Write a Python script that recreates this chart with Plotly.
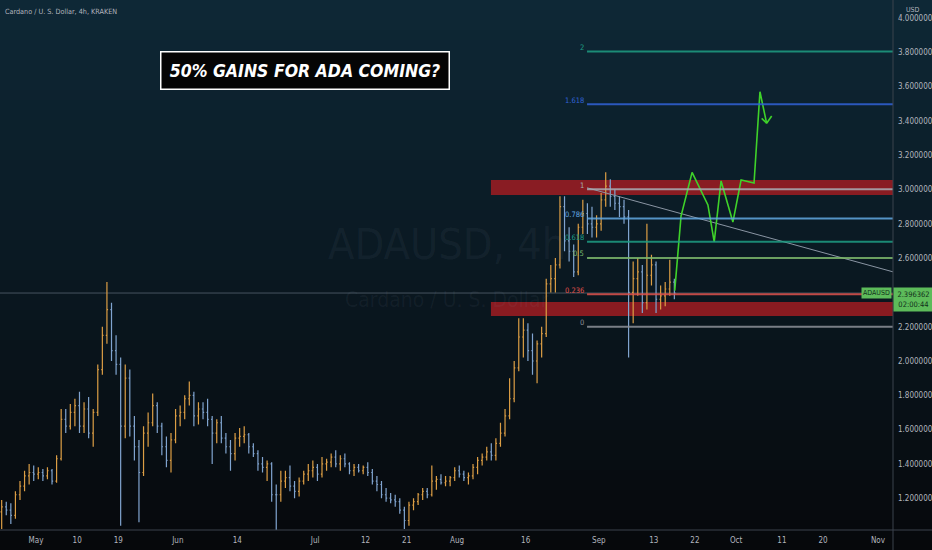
import pandas as pd
import plotly.graph_objects as go

# ---------------- data ----------------
dates = pd.date_range("2021-04-23 12:00", "2021-09-17 12:00", freq="D")

opens = [
    1.12, 1.15, 1.13, 1.10, 1.22, 1.27, 1.33, 1.35,
    1.34, 1.35, 1.33, 1.36, 1.30, 1.43, 1.66, 1.62, 1.70, 1.74, 1.62, 1.72, 1.58, 1.70, 1.95, 2.15,
    2.30, 2.06, 1.98, 1.62, 1.90, 1.62, 1.50, 1.35, 1.58, 1.64, 1.74, 1.62, 1.50, 1.42, 1.54,
    1.68, 1.70, 1.78, 1.80, 1.68, 1.72, 1.70, 1.66, 1.58, 1.64, 1.55, 1.50, 1.46, 1.55, 1.56,
    1.57, 1.50, 1.46, 1.40, 1.38, 1.40, 1.22, 1.22, 1.30, 1.32, 1.27, 1.24, 1.30, 1.34, 1.36,
    1.38, 1.34, 1.40, 1.41, 1.44, 1.40, 1.43, 1.40, 1.36, 1.38, 1.36, 1.38, 1.35, 1.30, 1.28,
    1.22, 1.20, 1.19, 1.18, 1.13, 1.07, 1.16, 1.18, 1.22, 1.24, 1.22, 1.30, 1.31, 1.29, 1.30, 1.32,
    1.36, 1.34, 1.32, 1.33, 1.38, 1.42, 1.44, 1.47, 1.45, 1.52, 1.58, 1.68, 1.78, 1.96, 2.14,
    2.18, 2.06, 2.00, 2.10, 2.16, 2.45, 2.48, 2.56, 2.90, 2.70, 2.64, 2.52, 2.78, 2.86, 2.80, 2.78,
    2.80, 2.94, 3.02, 2.96, 2.92, 2.90, 2.84, 2.40, 2.48, 2.52, 2.34, 2.50, 2.56, 2.36, 2.38, 2.42, 2.46,
]
highs = [
    1.19, 1.18, 1.17, 1.24, 1.30, 1.36, 1.40, 1.39,
    1.38, 1.37, 1.38, 1.37, 1.45, 1.72, 1.72, 1.75, 1.78, 1.82, 1.76, 1.79, 1.72, 1.98, 2.20, 2.46,
    2.34, 2.15, 2.02, 1.98, 1.95, 1.68, 1.54, 1.62, 1.70, 1.81, 1.76, 1.64, 1.56, 1.58, 1.72,
    1.74, 1.80, 1.88, 1.82, 1.76, 1.76, 1.78, 1.68, 1.66, 1.68, 1.58, 1.54, 1.58, 1.61, 1.62,
    1.58, 1.52, 1.48, 1.44, 1.42, 1.41, 1.28, 1.36, 1.36, 1.39, 1.30, 1.32, 1.36, 1.40, 1.42,
    1.40, 1.44, 1.43, 1.46, 1.48, 1.45, 1.46, 1.41, 1.40, 1.40, 1.39, 1.41, 1.37, 1.33, 1.30,
    1.26, 1.23, 1.22, 1.20, 1.15, 1.18, 1.20, 1.23, 1.26, 1.26, 1.39, 1.33, 1.34, 1.33, 1.33, 1.38,
    1.39, 1.36, 1.35, 1.40, 1.44, 1.46, 1.50, 1.52, 1.55, 1.64, 1.72, 1.90, 2.00, 2.25, 2.25,
    2.22, 2.16, 2.12, 2.20, 2.48, 2.56, 2.60, 2.96, 2.96, 2.78, 2.68, 2.80, 2.94, 2.92, 2.90, 2.85,
    2.98, 3.10, 3.06, 3.00, 2.96, 2.94, 2.88, 2.58, 2.60, 2.56, 2.80, 2.62, 2.58, 2.44, 2.46, 2.59, 2.48,
]
lows = [
    1.02, 1.10, 1.05, 1.08, 1.19, 1.24, 1.28, 1.30,
    1.31, 1.30, 1.31, 1.28, 1.29, 1.42, 1.58, 1.60, 1.62, 1.58, 1.58, 1.55, 1.50, 1.68, 1.92, 2.10,
    2.00, 1.92, 1.04, 1.55, 1.56, 1.42, 1.06, 1.33, 1.50, 1.62, 1.58, 1.45, 1.38, 1.35, 1.52,
    1.62, 1.66, 1.74, 1.62, 1.63, 1.66, 1.62, 1.40, 1.52, 1.52, 1.46, 1.36, 1.42, 1.50, 1.52,
    1.46, 1.44, 1.36, 1.35, 1.30, 1.18, 1.01, 1.18, 1.26, 1.24, 1.20, 1.21, 1.28, 1.30, 1.32,
    1.30, 1.32, 1.36, 1.38, 1.38, 1.36, 1.38, 1.34, 1.33, 1.35, 1.34, 1.33, 1.28, 1.24, 1.20,
    1.18, 1.17, 1.15, 1.11, 1.02, 1.04, 1.13, 1.16, 1.19, 1.20, 1.21, 1.25, 1.28, 1.27, 1.27, 1.30,
    1.32, 1.30, 1.28, 1.31, 1.34, 1.39, 1.42, 1.42, 1.42, 1.50, 1.56, 1.66, 1.76, 1.94, 2.02,
    2.00, 1.92, 1.87, 2.02, 2.14, 2.40, 2.40, 2.54, 2.64, 2.58, 2.49, 2.50, 2.74, 2.74, 2.72, 2.72,
    2.76, 2.90, 2.90, 2.88, 2.84, 2.80, 2.02, 2.22, 2.38, 2.28, 2.30, 2.44, 2.28, 2.30, 2.32, 2.38, 2.36,
]
closes = [
    1.15, 1.13, 1.10, 1.22, 1.27, 1.33, 1.35, 1.34,
    1.35, 1.33, 1.36, 1.30, 1.43, 1.66, 1.62, 1.70, 1.74, 1.62, 1.72, 1.58, 1.70, 1.95, 2.15, 2.30,
    2.06, 1.98, 1.62, 1.90, 1.62, 1.50, 1.35, 1.58, 1.64, 1.74, 1.62, 1.50, 1.42, 1.54, 1.68,
    1.70, 1.78, 1.80, 1.68, 1.72, 1.70, 1.66, 1.58, 1.64, 1.55, 1.50, 1.46, 1.55, 1.56, 1.57,
    1.50, 1.46, 1.40, 1.38, 1.40, 1.22, 1.22, 1.30, 1.32, 1.27, 1.24, 1.30, 1.34, 1.36, 1.38,
    1.34, 1.40, 1.41, 1.44, 1.40, 1.43, 1.40, 1.36, 1.38, 1.36, 1.38, 1.35, 1.30, 1.28, 1.22,
    1.20, 1.19, 1.18, 1.13, 1.07, 1.16, 1.18, 1.22, 1.24, 1.22, 1.30, 1.31, 1.29, 1.30, 1.32, 1.36,
    1.34, 1.32, 1.33, 1.38, 1.42, 1.44, 1.47, 1.45, 1.52, 1.58, 1.68, 1.78, 1.96, 2.14, 2.18,
    2.06, 2.00, 2.10, 2.16, 2.45, 2.48, 2.56, 2.90, 2.70, 2.64, 2.52, 2.78, 2.86, 2.80, 2.78, 2.80,
    2.94, 3.02, 2.96, 2.92, 2.90, 2.84, 2.40, 2.48, 2.52, 2.34, 2.50, 2.56, 2.36, 2.38, 2.42, 2.46, 2.396362,
]
last_price = 2.396362
last_price_text = "2.396362"
countdown_text = "02:00:44"

x_tick_vals = ["2021-05-01", "2021-05-10", "2021-05-19", "2021-06-01", "2021-06-14", "2021-07-01",
               "2021-07-12", "2021-07-21", "2021-08-01", "2021-08-16", "2021-09-01", "2021-09-13",
               "2021-09-22", "2021-10-01", "2021-10-11", "2021-10-20", "2021-11-01"]
x_tick_text = ["May", "10", "19", "Jun", "14", "Jul", "12", "21", "Aug", "16", "Sep", "13",
               "22", "Oct", "11", "20", "Nov"]
y_tick_vals = [1.2, 1.4, 1.6, 1.8, 2.0, 2.2, 2.6, 2.8, 3.0, 3.2, 3.4, 3.6, 3.8, 4.0]
x_range = ["2021-04-23 03:10", "2021-11-04 06:45"]
y_range = [1.0146, 4.105]

# Fibonacci extension levels
fib_price_0 = 2.200
fib_price_1 = 3.002
fib_levels = [0, 0.236, 0.5, 0.618, 0.786, 1, 1.618, 2]
fib_labels = ["0", "0.236", "0.5", "0.618", "0.786", "1", "1.618", "2"]
fib_colors = ["#8d9199", "#e0524c", "#7db86c", "#1f9e84", "#62a9e3", "#a9adb5", "#3162d6", "#1f9e84"]
fib_start = "2021-08-29 10:00"

# supply / demand zones
zone_start = "2021-08-08 10:00"
zone_top = [3.055, 2.968]
zone_bottom = [2.344, 2.262]

# descending trend line
trend_dates = ["2021-08-29 10:00", "2021-11-04 06:45"]
trend_prices = [3.01, 2.52]

# projected path (green)
proj_dates = ["2021-09-17 14:00", "2021-09-18 23:00", "2021-09-21 09:00", "2021-09-24 20:00",
              "2021-09-26 05:00", "2021-09-27 17:00", "2021-09-30 07:00", "2021-10-02 02:00",
              "2021-10-04 22:00", "2021-10-06 05:00", "2021-10-07 16:00", "2021-10-08 18:30"]
proj_prices = [2.41, 2.845, 3.10, 2.91, 2.694, 3.05, 2.81, 3.055, 3.038, 3.570, 3.386, 3.429]
wing_dates = ["2021-10-06 14:00", "2021-10-07 16:00"]
wing_prices = [3.415, 3.386]

# ---------------- figure ----------------
W, H = 932, 550
ML, MR, MT, MB = 0, 39, 0, 20
PW, PH = W - ML - MR, H - MT - MB
FONT = "DejaVu Sans Condensed, DejaVu Sans, sans-serif"

fig = go.Figure()

fig.add_trace(go.Ohlc(
    x=dates, open=opens, high=highs, low=lows, close=closes,
    increasing=dict(line=dict(color="#dc9e45", width=1.2)),
    decreasing=dict(line=dict(color="#80a4cf", width=1.2)),
    tickwidth=0.25, showlegend=False, hoverinfo="skip",
))

fig.add_trace(go.Scatter(x=trend_dates, y=trend_prices, mode="lines",
                         line=dict(color="#8a95a3", width=1), showlegend=False, hoverinfo="skip"))
fig.add_trace(go.Scatter(x=proj_dates, y=proj_prices, mode="lines",
                         line=dict(color="#3fd22a", width=1.6), showlegend=False, hoverinfo="skip"))
fig.add_trace(go.Scatter(x=wing_dates, y=wing_prices, mode="lines",
                         line=dict(color="#3fd22a", width=1.6), showlegend=False, hoverinfo="skip"))

shapes = []
# gradient background bands
top_c, mid_c, bot_c = (14, 40, 54), (10, 24, 33), (6, 8, 11)
NB = 55
for i in range(NB):
    t = (i + 0.5) / NB
    if t < 0.5:
        a, b, u = top_c, mid_c, t / 0.5
    else:
        a, b, u = mid_c, bot_c, (t - 0.5) / 0.5
    c = tuple(int(round(a[k] + (b[k] - a[k]) * u)) for k in range(3))
    y1 = 1 + MT / PH - i * (H / PH) / NB
    y0 = y1 - (H / PH) / NB - 0.002
    shapes.append(dict(type="rect", xref="paper", yref="paper", x0=-0.01, x1=1 + (MR + 2) / PW,
                       y0=y0, y1=y1, fillcolor="rgb(%d,%d,%d)" % c, line=dict(width=0), layer="below"))

# zones
for z in (zone_top, zone_bottom):
    shapes.append(dict(type="rect", xref="x", yref="y", x0=zone_start, x1=x_range[1],
                       y0=z[1], y1=z[0], fillcolor="rgba(155,28,34,0.88)", line=dict(width=0), layer="below"))

# last price line
shapes.append(dict(type="line", xref="paper", yref="y", x0=0, x1=1, y0=last_price, y1=last_price,
                   line=dict(color="rgba(120,135,150,0.55)", width=1), layer="below"))

# fib lines
for lv, col in zip(fib_levels, fib_colors):
    p = fib_price_0 + (fib_price_1 - fib_price_0) * lv
    shapes.append(dict(type="line", xref="x", yref="y", x0=fib_start, x1=x_range[1], y0=p, y1=p,
                       line=dict(color=col, width=2), opacity=0.85))

# separators
shapes.append(dict(type="line", xref="paper", yref="paper", x0=1, x1=1, y0=-MB / PH, y1=1,
                   line=dict(color="#3b424d", width=1)))
shapes.append(dict(type="line", xref="paper", yref="paper", x0=0, x1=1 + MR / PW, y0=0, y1=0,
                   line=dict(color="#3b424d", width=1)))

annotations = []
axis_font = dict(family=FONT, size=8, color="#b2b5be")

# watermark
annotations.append(dict(xref="paper", yref="paper", x=0.5, y=1 - 244 / PH, text="ADAUSD, 4h",
                        showarrow=False, borderpad=0,
                        font=dict(family=FONT, size=43, color="rgba(140,160,180,0.07)")))
annotations.append(dict(xref="paper", yref="paper", x=0.5, y=1 - 300 / PH, text="Cardano / U. S. Dollar",
                        showarrow=False, borderpad=0,
                        font=dict(family=FONT, size=21, color="rgba(140,160,180,0.07)")))

# header
annotations.append(dict(xref="paper", yref="paper", x=0, y=1, xshift=3, yshift=-5, xanchor="left",
                        yanchor="top", text="Cardano / U. S. Dollar, 4h, KRAKEN", showarrow=False,
                        font=dict(family=FONT, size=7.2, color="#b2b5be")))

# title box
annotations.append(dict(xref="paper", yref="paper", x=304.5 / PW, y=1 - 70.5 / PH, xanchor="center",
                        yanchor="middle", text="<b><i>50% GAINS FOR ADA COMING?</i></b>", showarrow=False,
                        font=dict(family=FONT, size=17.5, color="white"),
                        bgcolor="#050505", bordercolor="white", borderwidth=1.5, borderpad=0,
                        width=287, height=36))

# fib labels
for lv, lab, col in zip(fib_levels, fib_labels, fib_colors):
    p = fib_price_0 + (fib_price_1 - fib_price_0) * lv
    annotations.append(dict(xref="x", yref="y", x=fib_start, y=p, xanchor="right", yanchor="middle",
                            xshift=-2, yshift=4, text=lab, showarrow=False, borderpad=0,
                            font=dict(family=FONT, size=7.5, color=col)))

# price labels
annotations.append(dict(xref="paper", yref="y", x=1, y=last_price, xanchor="right", yanchor="middle",
                        xshift=-1, text="ADAUSD", showarrow=False,
                        font=dict(family=FONT, size=7, color="#12301a"),
                        bgcolor="#5dbb5a", borderpad=1))
annotations.append(dict(xref="paper", yref="y", x=1, y=last_price, xanchor="left", yanchor="top",
                        yshift=6, text=last_price_text + "<br>" + countdown_text, showarrow=False,
                        align="center",
                        font=dict(family=FONT, size=7.5, color="#12301a"),
                        bgcolor="#5dbb5a", borderpad=2, width=35))
annotations.append(dict(xref="paper", yref="paper", x=1, y=1, xshift=11, yshift=-4, xanchor="left",
                        yanchor="top", text="USD", showarrow=False, font=dict(family=FONT, size=7, color="#b2b5be")))

fig.update_layout(
    width=W, height=H, margin=dict(l=ML, r=MR, t=MT, b=MB, pad=0),
    paper_bgcolor="#080b0f", plot_bgcolor="rgba(0,0,0,0)",
    shapes=shapes, annotations=annotations, showlegend=False,
    xaxis=dict(type="date", range=x_range, tickvals=x_tick_vals, ticktext=x_tick_text,
               showgrid=False, zeroline=False, showline=False, ticks="",
               tickfont=dict(family=FONT, size=8, color="#b2b5be"),
               rangeslider=dict(visible=False), fixedrange=True, ticklabelstandoff=4),
    yaxis=dict(side="right", range=y_range, tickvals=y_tick_vals,
               ticktext=["%.6f" % v for v in y_tick_vals],
               showgrid=False, zeroline=False, showline=False, ticks="", tickfont=axis_font,
               fixedrange=True, ticklabelstandoff=4),
)

fig.write_html("out.html", config={"displayModeBar": False},
               post_script="document.body.style.margin='0px';document.body.style.overflow='hidden';")
